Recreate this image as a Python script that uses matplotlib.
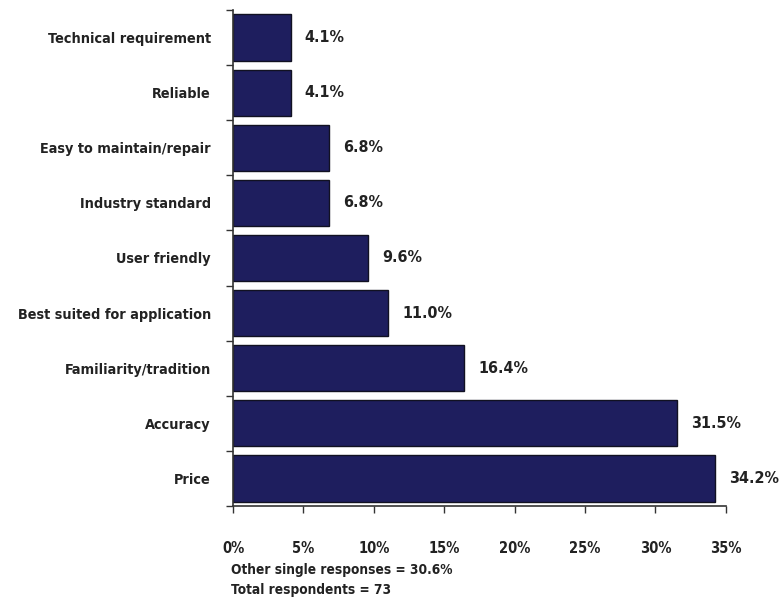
import matplotlib.pyplot as plt
from matplotlib import font_manager as fm
from matplotlib.ticker import MultipleLocator, FuncFormatter

categories = ['Technical requirement', 'Reliable', 'Easy to maintain/repair',
              'Industry standard', 'User friendly', 'Best suited for application',
              'Familiarity/tradition', 'Accuracy', 'Price']
values = [4.1, 4.1, 6.8, 6.8, 9.6, 11.0, 16.4, 31.5, 34.2]
notes = ['Other single responses = 30.6%', 'Total respondents = 73']

# look for a narrow bold face, the original uses a condensed font
narrow = None
for f in fm.fontManager.ttflist:
    if 'Narrow' in f.name or 'Condensed' in f.name or 'condensed' in str(f.stretch):
        narrow = f
        break

if narrow is not None:
    plt.rcParams['font.family'] = [narrow.name, 'DejaVu Sans']
    plt.rcParams['font.stretch'] = narrow.stretch
    k = 1.0
else:
    plt.rcParams['font.family'] = ['DejaVu Sans']
    k = 0.85
plt.rcParams['font.weight'] = 'bold'

txt = '#222222'
bar_color = '#1e1e5e'

fig = plt.figure(figsize=(7.83, 6.04), dpi=100)
ax = fig.add_axes([0.2976, 0.1623, 0.6294, 0.8211])

pos = list(range(len(categories)))
ax.barh(pos, values, height=0.84, color=bar_color, edgecolor='#111122', linewidth=1)
ax.set_ylim(len(categories) - 0.5, -0.5)
ax.set_xlim(0, 35)

for p, v in zip(pos, values):
    ax.text(v + 1.0, p, '%.1f%%' % v, va='center', ha='left',
            fontsize=11.5 * k, color=txt, fontweight='bold')

ax.set_yticks(pos)
ax.set_yticklabels(categories, fontsize=10.4 * k, color=txt, fontweight='bold')
ax.tick_params(axis='y', length=0, pad=16)
# boundary ticks between categories
ax.set_yticks([p - 0.5 for p in pos] + [len(pos) - 0.5], minor=True)
ax.tick_params(axis='y', which='minor', length=5, width=1, color='#333333')

ax.xaxis.set_major_locator(MultipleLocator(5))
ax.xaxis.set_major_formatter(FuncFormatter(lambda x, _: '%d%%' % x))
ax.tick_params(axis='x', length=5, width=1, color='#333333', labelsize=10.5 * k,
               labelcolor=txt, pad=20)
for lab in ax.get_xticklabels():
    lab.set_fontweight('bold')

for s in ['top', 'right']:
    ax.spines[s].set_visible(False)
for s in ['left', 'bottom']:
    ax.spines[s].set_color('#333333')
    ax.spines[s].set_linewidth(1.2)

fig.text(231 / 783, 1 - 570 / 604, notes[0], fontsize=9.8 * k, color=txt,
         fontweight='bold', va='center', ha='left')
fig.text(231 / 783, 1 - 590 / 604, notes[1], fontsize=9.8 * k, color=txt,
         fontweight='bold', va='center', ha='left')

fig.savefig('out.png', dpi=100, facecolor='white')
